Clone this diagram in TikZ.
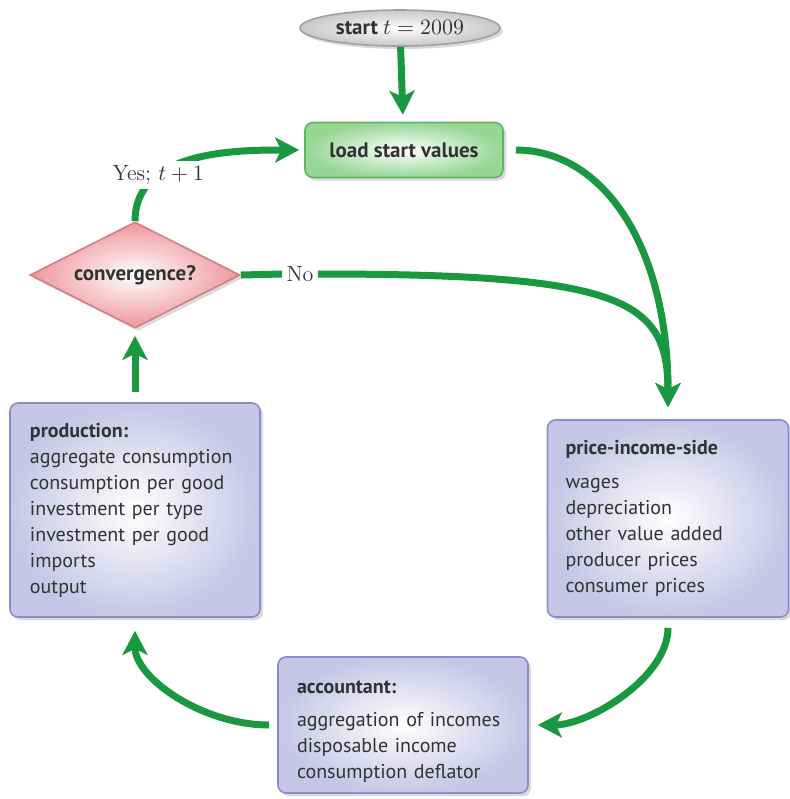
\documentclass[tikz,border=0pt]{standalone}
\usepackage{fontspec}
\setsansfont{PT Sans}
\usetikzlibrary{shapes.geometric,shadows,arrows.meta}
\definecolor{flowgreen}{RGB}{26,152,64}
\definecolor{boxouter}{RGB}{198,198,230}
\definecolor{boxborder}{RGB}{140,140,205}
\definecolor{greenouter}{RGB}{150,215,150}
\definecolor{greenborder}{RGB}{95,180,95}
\definecolor{pinkouter}{RGB}{238,150,156}
\definecolor{pinkborder}{RGB}{212,125,130}
\definecolor{ellouter}{RGB}{200,200,200}
\definecolor{ellborder}{RGB}{160,160,160}
\definecolor{textgray}{RGB}{50,50,50}
\newcommand{\nohyphs}{\hyphenpenalty=10000\relax\exhyphenpenalty=10000\relax}
\begin{document}
\begin{tikzpicture}[x=0.5pt,y=-0.5pt,
  flow/.style={line width=3.5pt, draw=flowgreen},
  arr/.style={flow, -{Stealth[length=12pt,width=12.5pt,inset=3pt]}},
  shad/.style={drop shadow={opacity=0.3, shadow xshift=1.5pt, shadow yshift=-1.5pt}},
  box/.style={draw=boxborder, line width=0.8pt, rounded corners=4pt, inner color=white, outer color=boxouter, shad,
    font=\sffamily\fontsize{10}{13}\selectfont\nohyphs, text=textgray, align=left, inner xsep=9pt},
  lbl/.style={fill=white, inner sep=2pt, font=\fontsize{11}{13}\selectfont, text=textgray}
]
\useasboundingbox (0,0) rectangle (790,799);

\node[ellipse, draw=ellborder, line width=0.8pt, inner color=white, outer color=ellouter, shad,
  minimum width=100pt, minimum height=18pt, inner sep=0pt, text=textgray,
  font=\sffamily\fontsize{10.5}{13}\selectfont] (start) at (400,28) {\bfseries start $t=2009$};

\node[draw=greenborder, line width=0.8pt, rounded corners=4pt, inner color=white, outer color=greenouter, shad,
  minimum width=99pt, minimum height=27.5pt, text=textgray,
  font=\sffamily\bfseries\fontsize{10.5}{13}\selectfont] (load) at (404,150) {load start values};

\node[diamond, shape aspect=2, draw=pinkborder, line width=0.8pt, inner color=white, outer color=pinkouter, shad,
  minimum width=105pt, minimum height=53pt, inner sep=0pt, text=textgray,
  font=\sffamily\bfseries\fontsize{10.5}{13}\selectfont] (conv) at (135,275) {convergence?};

\node[lbl] (no) at (300,274) {No};

\node[box, minimum width=125pt, minimum height=107pt, inner xsep=10pt, text width=105pt] (prod) at (135,510)
  {\textbf{production:}\\ aggregate consumption\\ consumption per good\\ investment per type\\ investment per good\\ imports\\ output};

\node[box, minimum width=120.5pt, minimum height=98.5pt, text width=102.5pt] (price) at (668,518.5)
  {\textbf{price-income-side}\\[4pt] wages\\ depreciation\\ other value added\\ producer prices\\ consumer prices};

\node[box, minimum width=125pt, minimum height=68pt, inner xsep=9.5pt, text width=106pt] (acc) at (403,725)
  {\rule{0pt}{12.5pt}\textbf{accountant:}\\[3.5pt] aggregation of incomes\\ disposable income\\ consumption deflator};

\coordinate (tipP) at ([yshift=6pt]price.north);

\draw[arr, shorten >=3.5pt] (start) -- (load);
\draw[arr, shorten >=2.5pt] (conv.north) .. controls +(0,-70) and +(-70,0) .. node[lbl, pos=0.3] (yes) {Yes; $t+1$} (load.west);
\draw[flow] (conv.east) -- (no.west);
\draw[arr] (no.east) .. controls +(304,0) and +(0,-108) .. (tipP);
\draw[arr, shorten <=6pt] (load.east) .. controls +(100,0) and +(0,-160) .. (tipP);
\draw[arr, shorten <=5pt, shorten >=4.5pt] (price.south) .. controls +(0,60) and +(60,0) .. (acc.east);
\draw[arr, shorten <=4pt, shorten >=6.5pt] (acc.west) .. controls +(-75,0) and +(0,60) .. (prod.south);
\draw[arr, shorten <=5pt, shorten >=3.5pt] (prod.north) -- (conv.south);
\end{tikzpicture}
\end{document}
